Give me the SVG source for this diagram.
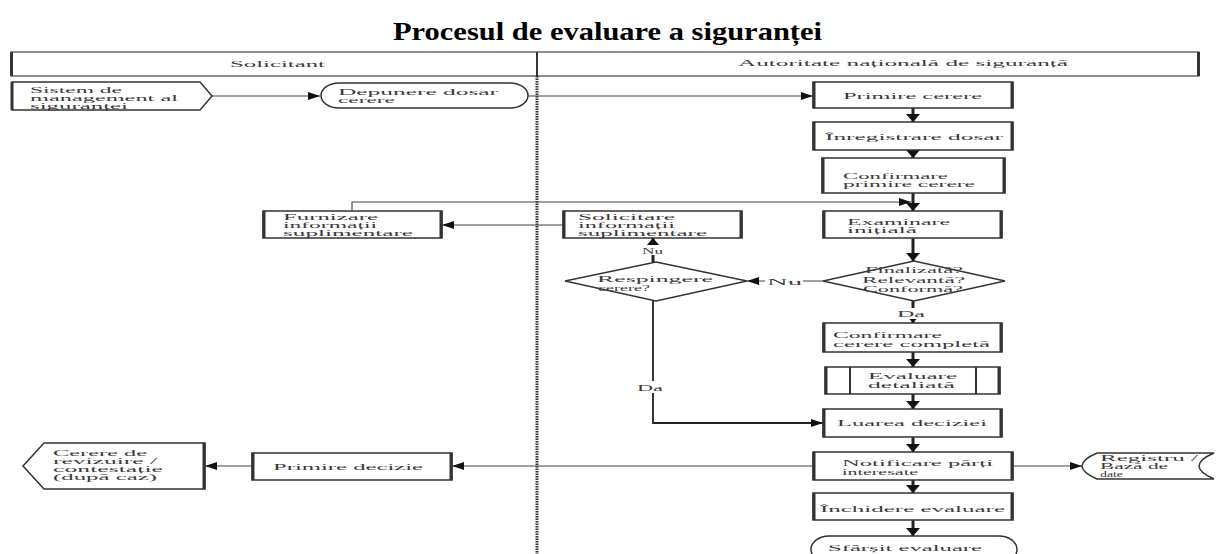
<svg xmlns="http://www.w3.org/2000/svg" width="1216" height="554" viewBox="0 0 1216 554">
<style>
.t{font-family:"Liberation Serif",serif;font-size:8.5px;fill:#3a3a3a;}
.title{font-family:"Liberation Serif",serif;font-size:26px;font-weight:bold;fill:#000;}
.box{fill:#fff;stroke:#333;stroke-width:1.5;}
.side{stroke:#333;stroke-width:3;}
.dia{fill:#fff;stroke:#333;stroke-width:1.3;}
.c{fill:none;stroke:#444;stroke-width:1.1;}
.cd{fill:none;stroke:#222;stroke-width:3;}
.lb{fill:#fff;stroke:none;}
</style>
<defs>
<marker id="ah" markerUnits="userSpaceOnUse" markerWidth="13" markerHeight="8" refX="12" refY="4" orient="auto"><path d="M0,0 L12,4 L0,8 Z" fill="#111"/></marker>
<marker id="ad" markerUnits="userSpaceOnUse" markerWidth="9" markerHeight="14" refX="8" refY="7" orient="auto"><path d="M0,0 L8,7 L0,14 Z" fill="#111"/></marker>
</defs>
<rect width="1216" height="554" fill="#fff"/>
<text class="title" x="393" y="40" textLength="429" lengthAdjust="spacingAndGlyphs">Procesul de evaluare a siguranței</text>

<g id="lanes">
<rect x="11" y="52" width="1188" height="24" fill="#fff" stroke="#444" stroke-width="1.2"/>
<line x1="11.5" y1="52" x2="11.5" y2="76" stroke="#333" stroke-width="3"/>
<line x1="1198.5" y1="52" x2="1198.5" y2="76" stroke="#333" stroke-width="3"/>
<line x1="537" y1="52" x2="537" y2="76" stroke="#333" stroke-width="2"/>
<line x1="537" y1="76" x2="537" y2="554" stroke="#333" stroke-width="3" stroke-dasharray="1.5,1"/>
<text class="t" x="230" y="67" textLength="95" lengthAdjust="spacingAndGlyphs">Solicitant</text>
<text class="t" x="738" y="66" textLength="330" lengthAdjust="spacingAndGlyphs">Autoritate națională de siguranță</text>
</g>

<g id="connectors">
<path class="c" d="M212,96 H320" marker-end="url(#ah)"/>
<path class="c" d="M528,96 H813" marker-end="url(#ah)"/>
<path class="cd" d="M913,108 V122" marker-end="url(#ad)"/>
<path class="cd" d="M913,150 V158" marker-end="url(#ad)"/>
<path class="cd" d="M913,193 V211" marker-end="url(#ad)"/>
<path class="c" d="M352,211 V202 H911" marker-end="url(#ah)"/>
<path class="cd" d="M913,238 V261" marker-end="url(#ad)"/>
<path class="c" d="M563,225 H442" marker-end="url(#ah)"/>
<path class="c" d="M823,281 H747" marker-end="url(#ah)"/>
<path class="cd" d="M913,301 V323" marker-end="url(#ad)"/>
<path class="cd" d="M653,262 V238" marker-end="url(#ad)"/>
<path class="cd" d="M653,301 V423 H823" style="stroke-width:1.8" marker-end="url(#ah)"/>
<path class="cd" d="M913,352 V367" marker-end="url(#ad)"/>
<path class="cd" d="M913,394 V409" marker-end="url(#ad)"/>
<path class="cd" d="M913,437 V452" marker-end="url(#ad)"/>
<path class="c" d="M813,466 H452" marker-end="url(#ah)"/>
<path class="c" d="M252,466 H205" marker-end="url(#ah)"/>
<path class="c" d="M1013,466 H1082" marker-end="url(#ah)"/>
<path class="cd" d="M913,480 V493" marker-end="url(#ad)"/>
<path class="cd" d="M913,520 V536" marker-end="url(#ad)"/>
<rect class="lb" x="765" y="275" width="38" height="12"/>
<text class="t" x="767" y="284.5" textLength="35" lengthAdjust="spacingAndGlyphs">Nu</text>
<rect class="lb" x="640" y="245" width="25" height="10"/>
<text class="t" x="642" y="253.5" textLength="21" lengthAdjust="spacingAndGlyphs">Nu</text>
<rect class="lb" x="895" y="308" width="32" height="11"/>
<text class="t" x="897" y="316.5" textLength="28" lengthAdjust="spacingAndGlyphs">Da</text>
<rect class="lb" x="635" y="381" width="30" height="12"/>
<text class="t" x="637" y="390.5" textLength="26" lengthAdjust="spacingAndGlyphs">Da</text>
</g>

<g id="n-sistem">
<polygon class="box" points="12,82 200,82 212,96 200,110 12,110"/>
<line class="side" x1="12" y1="82" x2="12" y2="110"/>
<text class="t" x="30" y="92.5" textLength="92" lengthAdjust="spacingAndGlyphs">Sistem de</text>
<text class="t" x="30" y="100.5" textLength="148" lengthAdjust="spacingAndGlyphs">management  al</text>
<text class="t" x="30" y="108.5" textLength="98" lengthAdjust="spacingAndGlyphs">siguranței</text>
</g>

<g id="n-depunere">
<rect class="box" x="321" y="83" width="207" height="25" rx="18" ry="12.5"/>
<text class="t" x="338" y="94.5" textLength="160" lengthAdjust="spacingAndGlyphs">Depunere dosar</text>
<text class="t" x="338" y="103" textLength="57" lengthAdjust="spacingAndGlyphs">cerere</text>
</g>

<g id="n-primire">
<rect class="box" x="813" y="82" width="200" height="26"/>
<line class="side" x1="814" y1="82" x2="814" y2="108"/><line class="side" x1="1012" y1="82" x2="1012" y2="108"/>
<text class="t" x="843" y="99" textLength="139" lengthAdjust="spacingAndGlyphs">Primire cerere</text>
</g>

<g id="n-inregistrare">
<rect class="box" x="813" y="122" width="200" height="28"/>
<line class="side" x1="814" y1="122" x2="814" y2="150"/><line class="side" x1="1012" y1="122" x2="1012" y2="150"/>
<text class="t" x="825" y="139.5" textLength="178" lengthAdjust="spacingAndGlyphs">Înregistrare dosar</text>
</g>

<g id="n-confirmare">
<rect class="box" x="822" y="158" width="183" height="35"/>
<line class="side" x1="823" y1="158" x2="823" y2="193"/><line class="side" x1="1004" y1="158" x2="1004" y2="193"/>
<text class="t" x="843" y="178.5" textLength="105" lengthAdjust="spacingAndGlyphs">Confirmare</text>
<text class="t" x="843" y="187" textLength="132" lengthAdjust="spacingAndGlyphs">primire cerere</text>
</g>

<g id="n-furnizare">
<rect class="box" x="263" y="211" width="179" height="27"/>
<line class="side" x1="264" y1="211" x2="264" y2="238"/><line class="side" x1="441" y1="211" x2="441" y2="238"/>
<text class="t" x="283" y="219.5" textLength="95" lengthAdjust="spacingAndGlyphs">Furnizare</text>
<text class="t" x="283" y="227.5" textLength="94" lengthAdjust="spacingAndGlyphs">informații</text>
<text class="t" x="283" y="235.5" textLength="130" lengthAdjust="spacingAndGlyphs">suplimentare</text>
</g>

<g id="n-solicitare">
<rect class="box" x="563" y="211" width="179" height="27"/>
<line class="side" x1="564" y1="211" x2="564" y2="238"/><line class="side" x1="741" y1="211" x2="741" y2="238"/>
<text class="t" x="578" y="219.5" textLength="97" lengthAdjust="spacingAndGlyphs">Solicitare</text>
<text class="t" x="578" y="227.5" textLength="97" lengthAdjust="spacingAndGlyphs">informații</text>
<text class="t" x="578" y="235.5" textLength="129" lengthAdjust="spacingAndGlyphs">suplimentare</text>
</g>

<g id="n-examinare">
<rect class="box" x="823" y="211" width="179" height="27"/>
<line class="side" x1="824" y1="211" x2="824" y2="238"/><line class="side" x1="1001" y1="211" x2="1001" y2="238"/>
<text class="t" x="847" y="224.5" textLength="103" lengthAdjust="spacingAndGlyphs">Examinare</text>
<text class="t" x="847" y="232.5" textLength="70" lengthAdjust="spacingAndGlyphs">inițială</text>
</g>

<g id="n-finalizata">
<polygon class="dia" points="914,261 1005,281 914,301 823,281"/>
<text class="t" x="865" y="273" textLength="98" lengthAdjust="spacingAndGlyphs">Finalizată?</text>
<text class="t" x="862" y="282.5" textLength="103" lengthAdjust="spacingAndGlyphs">Relevantă?</text>
<text class="t" x="863" y="292" textLength="100" lengthAdjust="spacingAndGlyphs">Conformă?</text>
</g>

<g id="n-respingere">
<polygon class="dia" points="656,262 747,281 656,301 565,281"/>
<text class="t" x="597" y="282" textLength="116" lengthAdjust="spacingAndGlyphs">Respingere</text>
<text class="t" x="598" y="290.5" textLength="52" lengthAdjust="spacingAndGlyphs">cerere?</text>
</g>

<g id="n-confirmare-completa">
<rect class="box" x="823" y="323" width="179" height="29"/>
<line class="side" x1="824" y1="323" x2="824" y2="352"/><line class="side" x1="1001" y1="323" x2="1001" y2="352"/>
<text class="t" x="833" y="338" textLength="109" lengthAdjust="spacingAndGlyphs">Confirmare</text>
<text class="t" x="833" y="346.5" textLength="157" lengthAdjust="spacingAndGlyphs">cerere completă</text>
</g>

<g id="n-evaluare">
<rect class="box" x="825" y="367" width="175" height="27"/>
<line class="side" x1="826" y1="367" x2="826" y2="394"/><line class="side" x1="999" y1="367" x2="999" y2="394"/>
<line class="side" x1="850" y1="367" x2="850" y2="394" style="stroke-width:2"/><line class="side" x1="976" y1="367" x2="976" y2="394" style="stroke-width:2"/>
<text class="t" x="868" y="379" textLength="89" lengthAdjust="spacingAndGlyphs">Evaluare</text>
<text class="t" x="868" y="387.5" textLength="87" lengthAdjust="spacingAndGlyphs">detaliată</text>
</g>

<g id="n-luarea">
<rect class="box" x="823" y="409" width="179" height="28"/>
<line class="side" x1="824" y1="409" x2="824" y2="437"/><line class="side" x1="1001" y1="409" x2="1001" y2="437"/>
<text class="t" x="837" y="426" textLength="150" lengthAdjust="spacingAndGlyphs">Luarea deciziei</text>
</g>

<g id="n-notificare">
<rect class="box" x="813" y="452" width="200" height="28"/>
<line class="side" x1="814" y1="452" x2="814" y2="480"/><line class="side" x1="1012" y1="452" x2="1012" y2="480"/>
<text class="t" x="842" y="465.5" textLength="151" lengthAdjust="spacingAndGlyphs">Notificare părți</text>
<text class="t" x="842" y="474.5" textLength="76" lengthAdjust="spacingAndGlyphs">interesate</text>
</g>

<g id="n-registru">
<path class="box" d="M1097,453 L1214,453 Q1184,466 1214,479 L1097,479 Q1067,466 1097,453 Z"/>
<text class="t" x="1100" y="460.5" textLength="98" lengthAdjust="spacingAndGlyphs">Registru /</text>
<text class="t" x="1100" y="468.5" textLength="68" lengthAdjust="spacingAndGlyphs">Bază de</text>
<text class="t" x="1100" y="476.5" textLength="23" lengthAdjust="spacingAndGlyphs">date</text>
</g>

<g id="n-inchidere">
<rect class="box" x="813" y="493" width="200" height="27"/>
<line class="side" x1="814" y1="493" x2="814" y2="520"/><line class="side" x1="1012" y1="493" x2="1012" y2="520"/>
<text class="t" x="820" y="512" textLength="185" lengthAdjust="spacingAndGlyphs">Închidere evaluare</text>
</g>

<g id="n-sfarsit">
<rect class="box" x="811" y="536" width="206" height="27" rx="18" ry="13.5"/>
<text class="t" x="828" y="551" textLength="154" lengthAdjust="spacingAndGlyphs">Sfârșit evaluare</text>
</g>

<g id="n-primire-decizie">
<rect class="box" x="252" y="453" width="200" height="27"/>
<line class="side" x1="253" y1="453" x2="253" y2="480"/><line class="side" x1="451" y1="453" x2="451" y2="480"/>
<text class="t" x="273" y="470" textLength="150" lengthAdjust="spacingAndGlyphs">Primire decizie</text>
</g>

<g id="n-cerere-revizuire">
<polygon class="box" points="23,466 44,443 205,443 205,489 44,489"/>
<line class="side" x1="204" y1="443" x2="204" y2="489"/>
<text class="t" x="53" y="456" textLength="94" lengthAdjust="spacingAndGlyphs">Cerere de</text>
<text class="t" x="53" y="464" textLength="104" lengthAdjust="spacingAndGlyphs">revizuire /</text>
<text class="t" x="53" y="472" textLength="110" lengthAdjust="spacingAndGlyphs">contestație</text>
<text class="t" x="53" y="480" textLength="104" lengthAdjust="spacingAndGlyphs">(după caz)</text>
</g>
</svg>
